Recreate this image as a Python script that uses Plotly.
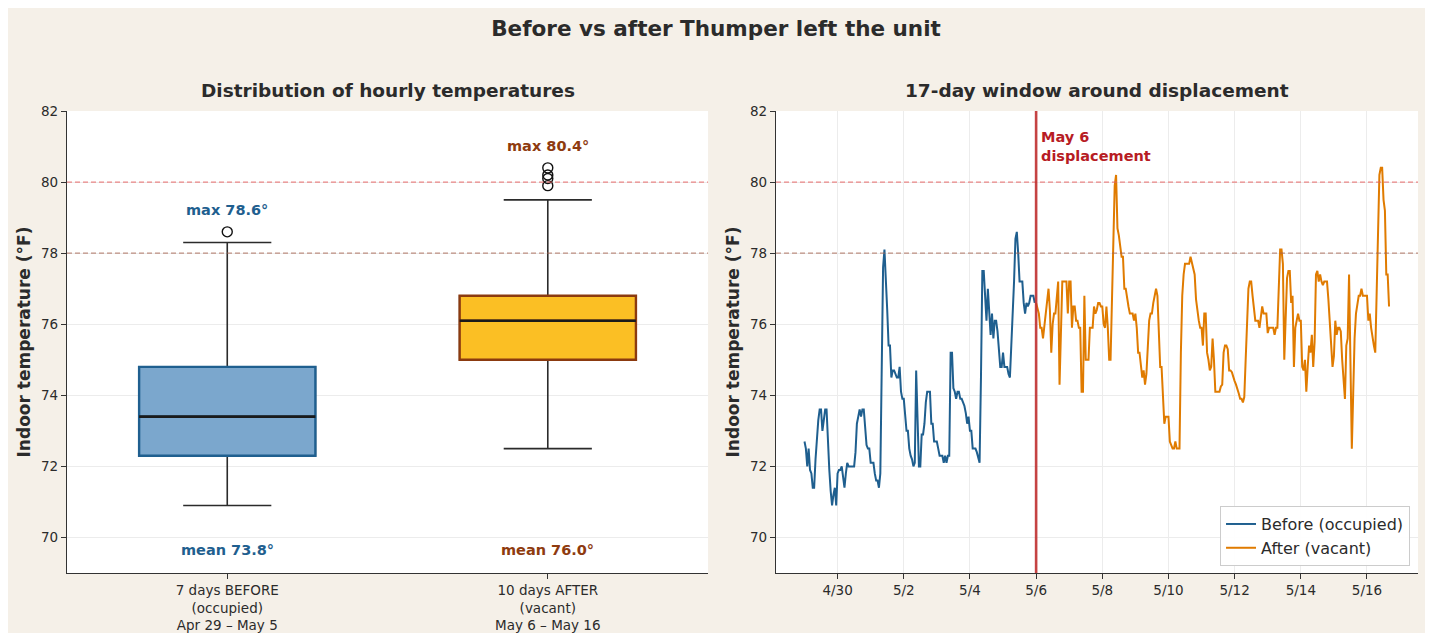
import pandas as pd
import plotly.graph_objects as go

# ---------------- Box-plot summary ----------------
group_labels = ["7 days BEFORE<br>(occupied)<br>Apr 29 – May 5",
                "10 days AFTER<br>(vacant)<br>May 6 – May 16"]
box_q1 = [72.3, 75.0]
box_median = [73.4, 76.1]
box_q3 = [74.8, 76.8]
box_low = [70.9, 72.5]
box_high = [78.3, 79.5]
outliers_before = [78.6]
outliers_after = [79.9, 80.1, 80.2, 80.4]
group_means = [73.8, 76.0]
group_max = [78.6, 80.4]

# ---------------- Hourly series ----------------
before_start = "2024-04-29 00:00"
before_temps = [
    72.7, 72.5, 72.0, 72.5, 71.9, 71.8, 71.4, 71.4, 72.2, 72.9, 73.3, 73.6,
    73.6, 73.0, 73.4, 73.6, 73.6, 72.5, 71.9, 71.3, 70.9, 71.2, 71.4, 70.9,
    71.8, 71.9, 71.9, 72.0, 71.6, 71.4, 71.8, 72.1, 72.0, 72.0, 72.0, 72.0,
    72.0, 72.4, 73.2, 73.4, 73.6, 73.4, 73.6, 73.6, 73.1, 72.6, 72.5, 72.5,
    72.1, 72.1, 72.1, 71.8, 71.6, 71.6, 71.4, 71.8, 74.5, 77.6, 78.1, 77.4,
    76.4, 75.4, 75.4, 74.5, 74.7, 74.7, 74.6, 74.5, 74.5, 74.8, 74.1, 73.9,
    73.9, 73.5, 73.0, 73.0, 72.5, 72.3, 72.2, 72.0, 72.1, 74.7, 73.2, 72.0,
    72.0, 72.9, 72.9, 73.2, 73.8, 74.1, 74.1, 74.1, 73.2, 73.2, 72.7, 72.7,
    72.7, 72.5, 72.3, 72.3, 72.3, 72.1, 72.3, 72.1, 72.3, 72.3, 75.2, 75.2,
    74.2, 74.1, 73.9, 74.1, 74.1, 73.9, 73.9, 73.8, 73.7, 73.5, 73.2, 73.4,
    73.0, 73.0, 72.5, 72.5, 72.5, 72.4, 72.2, 72.1, 74.5, 77.5, 77.5, 76.8,
    76.1, 77.0, 76.3, 75.7, 76.3, 75.6, 76.1, 76.1, 75.8, 75.2, 74.8, 74.8,
    75.2, 74.8, 74.8, 74.8, 74.6, 74.5, 75.4, 76.2, 77.2, 78.4, 78.6, 78.0,
    77.2, 77.2, 77.2, 76.6, 76.3, 76.6, 76.5, 76.6, 76.8, 76.8, 76.8, 76.6,
]

after_start = "2024-05-06 00:00"
after_temps = [
    76.6, 76.4, 76.3, 75.9, 75.9, 75.6, 76.0, 76.3, 76.7, 77.0, 76.4, 75.2,
    76.0, 76.3, 76.3, 76.8, 77.2, 74.3, 75.9, 77.2, 77.2, 77.2, 77.2, 76.3,
    77.2, 77.2, 75.9, 76.5, 76.5, 76.1, 76.1, 75.9, 75.9, 74.1, 74.1, 76.8,
    75.0, 75.0, 75.0, 75.9, 75.9, 75.9, 76.5, 76.3, 76.4, 76.6, 76.6, 76.5,
    76.5, 76.0, 75.9, 76.5, 75.9, 75.0, 75.0, 76.9, 78.5, 79.9, 80.2, 78.7,
    78.5, 78.2, 77.9, 77.9, 77.0, 77.0, 76.7, 76.5, 76.3, 76.3, 76.3, 76.1,
    76.3, 75.9, 75.2, 75.2, 74.9, 74.5, 74.7, 74.3, 74.6, 75.4, 76.1, 76.3,
    76.3, 76.6, 76.8, 77.0, 76.8, 75.9, 74.8, 74.8, 74.0, 73.2, 73.4, 73.4,
    73.4, 72.7, 72.6, 72.5, 72.5, 72.7, 72.5, 72.5, 72.5, 75.2, 76.8, 77.4,
    77.7, 77.7, 77.7, 77.7, 77.9, 77.7, 77.5, 77.4, 76.7, 76.3, 76.1, 75.9,
    75.9, 75.4, 76.3, 76.3, 75.2, 75.0, 74.7, 74.8, 75.6, 75.0, 74.1, 74.1,
    74.1, 74.1, 74.25, 74.3, 75.2, 75.4, 75.4, 75.3, 74.7, 74.7, 74.65, 74.5,
    74.4, 74.3, 74.2, 74.05, 73.9, 73.9, 73.8, 73.95, 75.0, 76.2, 77.0, 77.2,
    77.2, 76.8, 76.4, 76.1, 76.1, 76.1, 75.9, 76.2, 76.5, 76.3, 76.3, 76.3,
    75.75, 75.9, 75.9, 75.9, 75.9, 75.7, 75.9, 75.9, 76.9, 78.1, 78.1, 77.7,
    75.0, 76.4, 77.3, 77.5, 77.5, 76.6, 76.8, 74.8, 75.9, 76.1, 76.3, 76.1,
    76.1, 74.8, 74.7, 75.0, 74.1, 74.8, 75.4, 75.2, 75.7, 74.8, 75.5, 77.4,
    77.5, 77.2, 77.4, 77.2, 77.1, 77.2, 77.2, 77.2, 76.7, 76.0, 75.4, 74.8,
    75.1, 76.1, 75.7, 75.9, 75.9, 75.8, 75.0, 74.4, 73.9, 75.4, 75.6, 77.4,
    75.0, 72.5, 74.05, 75.6, 76.3, 76.5, 76.8, 76.8, 77.0, 76.8, 76.8, 76.8,
    76.8, 76.1, 76.3, 75.9, 75.6, 75.4, 75.2, 76.9, 79.2, 80.2, 80.4, 80.4,
    79.5, 79.2, 77.4, 77.4, 76.5,
]

displacement_date = "2024-05-06 00:00"
threshold_lines = [80, 78]

# ---------------- Styles ----------------
FONT = "DejaVu Sans"
TXT = "#2b2b2b"
BLUE = "#1f5f8f"
ORANGE = "#e07b00"
BOX_FILL = ["#7ba7cd", "#fbbf24"]
BOX_EDGE = ["#1f5f8f", "#8b3a0f"]
LABEL_COL = ["#1f5f8f", "#8e3b0f"]
THRESH_COL = ["rgba(229,96,96,0.75)", "rgba(165,100,80,0.7)"]
BEIGE = "#f5f0e8"
GRID = "#ececec"
BOX_W = 0.55

before_x = pd.date_range(before_start, periods=len(before_temps), freq="h")
after_x = pd.date_range(after_start, periods=len(after_temps), freq="h")

fig = go.Figure()

# ---------------- Left panel: box plots ----------------
for i in range(2):
    # whiskers + caps (dark)
    fig.add_trace(go.Box(
        x=[i], q1=[box_q1[i]], median=[box_median[i]], q3=[box_q3[i]],
        lowerfence=[box_low[i]], upperfence=[box_high[i]],
        width=BOX_W, whiskerwidth=0.5, boxpoints=False,
        fillcolor="rgba(0,0,0,0)", line=dict(color="#2b2b2b", width=1.6),
        xaxis="x", yaxis="y", showlegend=False, hoverinfo="skip"))
    # coloured box body
    fig.add_trace(go.Box(
        x=[i], q1=[box_q1[i]], median=[box_median[i]], q3=[box_q3[i]],
        lowerfence=[box_q1[i]], upperfence=[box_q3[i]],
        width=BOX_W, whiskerwidth=0, boxpoints=False,
        fillcolor=BOX_FILL[i], line=dict(color=BOX_EDGE[i], width=2.4),
        xaxis="x", yaxis="y", showlegend=False, hoverinfo="skip"))
    # median line
    fig.add_trace(go.Scatter(
        x=[i - BOX_W / 2, i + BOX_W / 2], y=[box_median[i], box_median[i]],
        mode="lines", line=dict(color="#1a1a1a", width=2.6),
        xaxis="x", yaxis="y", showlegend=False, hoverinfo="skip"))

for i, outs in enumerate([outliers_before, outliers_after]):
    fig.add_trace(go.Scatter(
        x=[i] * len(outs), y=outs, mode="markers",
        marker=dict(symbol="circle-open", size=10, color="#111111", line=dict(width=1.4)),
        xaxis="x", yaxis="y", showlegend=False, hoverinfo="skip"))

# ---------------- Right panel: time series ----------------
fig.add_trace(go.Scatter(x=before_x, y=before_temps, mode="lines", name="Before (occupied)",
                         line=dict(color=BLUE, width=2), xaxis="x2", yaxis="y2"))
fig.add_trace(go.Scatter(x=after_x, y=after_temps, mode="lines", name="After (vacant)",
                         line=dict(color=ORANGE, width=2), xaxis="x2", yaxis="y2"))

shapes = []
for xr in ["x domain", "x2 domain"]:
    yr = "y" if xr == "x domain" else "y2"
    for val, col in zip(threshold_lines, THRESH_COL):
        shapes.append(dict(type="line", xref=xr, yref=yr, x0=0, x1=1, y0=val, y1=val,
                           line=dict(color=col, width=1.3, dash="5px,3px"), layer="above"))
shapes.append(dict(type="line", xref="x2", yref="y2 domain", x0=displacement_date, x1=displacement_date,
                   y0=0, y1=1, line=dict(color="rgba(192,48,48,0.9)", width=2.6), layer="above"))

annotations = []
for i in range(2):
    annotations.append(dict(xref="x", yref="y", x=i, y=group_max[i] + 0.62, yanchor="middle",
                            xanchor="center", text=f"max {group_max[i]:.1f}°", showarrow=False,
                            font=dict(family=FONT, size=14.5, color=LABEL_COL[i], weight="bold")))
    annotations.append(dict(xref="x", yref="y", x=i, y=69.64, yanchor="middle", xanchor="center",
                            text=f"mean {group_means[i]:.1f}°", showarrow=False,
                            font=dict(family=FONT, size=14.5, color=LABEL_COL[i], weight="bold")))
annotations.append(dict(xref="x2", yref="y2", x=displacement_date, y=81.56, xanchor="left", yanchor="top",
                        xshift=3, align="left", text="May 6<br>displacement", showarrow=False,
                        font=dict(family=FONT, size=14.5, color="#b71c24", weight="bold")))
annotations.append(dict(xref="paper", yref="paper", x=0.2376, y=1.0433, xanchor="center",
                        yanchor="middle", text="Distribution of hourly temperatures", showarrow=False,
                        font=dict(family=FONT, size=18.5, color=TXT, weight="bold")))
annotations.append(dict(xref="paper", yref="paper", x=0.7624, y=1.0433, xanchor="center",
                        yanchor="middle", text="17-day window around displacement", showarrow=False,
                        font=dict(family=FONT, size=18.5, color=TXT, weight="bold")))

axis_common = dict(showline=True, linecolor="#333333", linewidth=1.3, ticks="outside",
                   ticklen=5, tickwidth=1.2, tickcolor="#333333", zeroline=False,
                   automargin=False, tickfont=dict(family=FONT, size=13.5, color=TXT))
y_common = dict(axis_common, range=[69, 82], tick0=70, dtick=2, showgrid=True, gridcolor=GRID,
                gridwidth=1,
                title=dict(text="Indoor temperature (°F)", standoff=6,
                           font=dict(family=FONT, size=17, color=TXT, weight="bold")))

fig.update_layout(
    width=1433, height=633,
    paper_bgcolor=BEIGE, plot_bgcolor="white",
    margin=dict(l=59, r=23, t=103, b=68),
    boxmode="overlay",
    font=dict(family=FONT, color=TXT),
    title=dict(text="Before vs after Thumper left the unit", x=708 / 1433, xanchor="center",
               y=1 - 20 / 633, yanchor="middle",
               font=dict(family=FONT, size=21.5, color=TXT, weight="bold")),
    xaxis=dict(axis_common, domain=[0, 0.4745], range=[-0.5, 1.5], tickvals=[0, 1],
               ticktext=group_labels, showgrid=False, anchor="y"),
    yaxis=dict(y_common, domain=[0, 1], anchor="x"),
    xaxis2=dict(axis_common, domain=[0.5248, 1], type="date",
                range=["2024-04-28 03:20", "2024-05-17 13:00"],
                tick0="2024-04-30", dtick=2 * 86400000, tickformat="%-m/%-d",
                showgrid=True, gridcolor=GRID, anchor="y2"),
    yaxis2=dict(y_common, domain=[0, 1], anchor="x2"),
    legend=dict(x=0.9941, y=0.015, xanchor="right", yanchor="bottom",
                bgcolor="rgba(255,255,255,0.92)", bordercolor="#cccccc", borderwidth=1,
                font=dict(family=FONT, size=16, color=TXT)),
    shapes=shapes,
    annotations=annotations,
)

fig.write_html("out.html")
